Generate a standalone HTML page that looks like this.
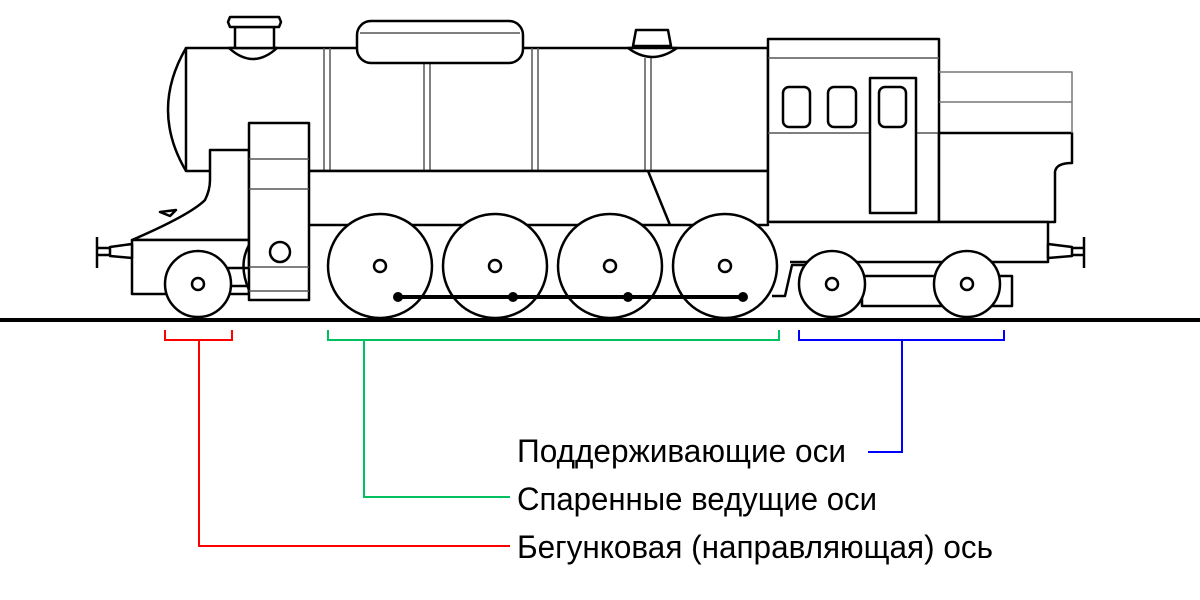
<!DOCTYPE html>
<html><head><meta charset="utf-8"><style>
html,body{margin:0;padding:0;background:#fff;}
svg{display:block;}
text{font-family:"Liberation Sans","DejaVu Sans",sans-serif;font-size:32px;fill:#000;}
</style></head><body>
<svg width="1200" height="600" viewBox="0 0 1200 600" xmlns="http://www.w3.org/2000/svg">
<g fill="#fff" stroke="#000" stroke-width="2.5" stroke-linejoin="round">
<!-- boiler -->
<rect x="186" y="48" width="582" height="123"/>
<path d="M186 48 Q150 110 186 171" fill="none"/>
<!-- double lines -->
<g stroke="#555" stroke-width="1.5">
<line x1="324" y1="48" x2="324" y2="171"/><line x1="330" y1="48" x2="330" y2="171"/>
<line x1="424" y1="62" x2="424" y2="171"/><line x1="430" y1="62" x2="430" y2="171"/>
<line x1="532" y1="48" x2="532" y2="171"/><line x1="538" y1="48" x2="538" y2="171"/>
<line x1="645" y1="58" x2="645" y2="171"/><line x1="651" y1="58" x2="651" y2="171"/>
</g>
<!-- chimney -->
<path d="M229 48 Q253 70 277 48 Z"/>
<rect x="235" y="27" width="39" height="21"/>
<path d="M230 17 H279 L281 22 L279 27 H230 L228 22 Z"/>
<!-- steam dome -->
<rect x="357" y="21" width="166" height="42" rx="14"/>
<line x1="360" y1="33" x2="520" y2="33" stroke="#555" stroke-width="1.5"/>
<!-- sand dome -->
<path d="M628 48 Q652 66 677 48 Z"/>
<path d="M636 30 H668 L671 46 H633 Z"/>
<!-- frame -->
<rect x="308" y="171" width="460" height="54"/>
<line x1="648" y1="171" x2="670" y2="225"/>
<!-- cab -->
<rect x="768" y="39" width="171" height="183"/>
<line x1="768" y1="58" x2="939" y2="58" stroke="#555" stroke-width="1.5"/>
<line x1="768" y1="133" x2="939" y2="133" stroke="#555" stroke-width="1.5"/>
<rect x="783" y="87" width="27" height="40" rx="6"/>
<rect x="828" y="87" width="28" height="40" rx="6"/>
<rect x="870" y="78" width="46" height="135"/>
<rect x="879" y="87" width="27" height="40" rx="6"/>
<!-- tender -->
<path d="M939 133 H1072 V163 Q1056 163 1055 172 V222 H939 Z"/>
<g stroke="#777" stroke-width="1.5" fill="none">
<path d="M939 72 H1072 V133"/><line x1="939" y1="102" x2="1072" y2="102"/>
</g>
<path d="M768 222 H1048 V262 H790"/>
<path d="M1048 244 L1072 247 L1072 256 L1048 258 Z"/>
<line x1="1084" y1="237" x2="1084" y2="268"/>
<line x1="1072" y1="248" x2="1084" y2="248"/><line x1="1072" y1="255" x2="1084" y2="255"/>
<rect x="862" y="276" width="150" height="30"/>
<path d="M772 296 H785 L792 265 H805" fill="none"/>
<!-- front -->
<path d="M210 150 H249 V240 H132 Q190 215 205 200 Q210 190 210 180 Z"/>
<path d="M160 212 L176 210 L170 216 Z"/>
<rect x="132" y="240" width="117" height="54"/>
<path d="M132 244 L110 247 L110 256 L132 258 Z"/>
<line x1="97" y1="237" x2="97" y2="268"/>
<line x1="97" y1="248" x2="110" y2="248"/><line x1="97" y1="255" x2="110" y2="255"/>
<rect x="228" y="268" width="24" height="18"/>
<path d="M249 245 Q238 265 249 290" fill="none"/>
<circle cx="198" cy="284" r="33"/><circle cx="198" cy="284" r="6"/>
<rect x="249" y="123" width="60" height="177"/>
<g stroke="#555" stroke-width="1.5">
<line x1="249" y1="159" x2="309" y2="159"/><line x1="249" y1="189" x2="309" y2="189"/>
<line x1="249" y1="267" x2="309" y2="267"/><line x1="249" y1="291" x2="309" y2="291"/>
</g>
<circle cx="280" cy="252" r="10"/>
<!-- driving wheels -->
<circle cx="380" cy="266" r="52"/><circle cx="380" cy="266" r="6"/>
<circle cx="495" cy="266" r="52"/><circle cx="495" cy="266" r="6"/>
<circle cx="610" cy="266" r="52"/><circle cx="610" cy="266" r="6"/>
<circle cx="725" cy="266" r="52"/><circle cx="725" cy="266" r="6"/>
<!-- trailing wheels -->
<circle cx="832" cy="284" r="33"/><circle cx="832" cy="284" r="6"/>
<circle cx="967" cy="284" r="33"/><circle cx="967" cy="284" r="6"/>
</g>
<line x1="398" y1="297" x2="743" y2="297" stroke="#000" stroke-width="4"/>
<g fill="#000"><circle cx="398" cy="297" r="5"/><circle cx="513" cy="297" r="5"/><circle cx="628" cy="297" r="5"/><circle cx="743" cy="297" r="5"/></g>
<line x1="0" y1="320" x2="1200" y2="320" stroke="#000" stroke-width="4"/>
<!-- brackets -->
<g fill="none" stroke-width="2">
<path d="M165 330 V340 H232 V330 M199 340 V546 H510" stroke="#f00"/>
<path d="M328 330 V340 H779 V330 M364 340 V497 H510" stroke="#00c060"/>
<path d="M799 330 V340 H1004 V330 M902 340 V452 H868" stroke="#00f"/>
</g>
<text x="517" y="462" textLength="329" lengthAdjust="spacingAndGlyphs">Поддерживающие оси</text>
<text x="517" y="510" textLength="360" lengthAdjust="spacingAndGlyphs">Спаренные ведущие оси</text>
<text x="517" y="558" textLength="476" lengthAdjust="spacingAndGlyphs">Бегунковая (направляющая) ось</text>
</svg>
</body></html>
